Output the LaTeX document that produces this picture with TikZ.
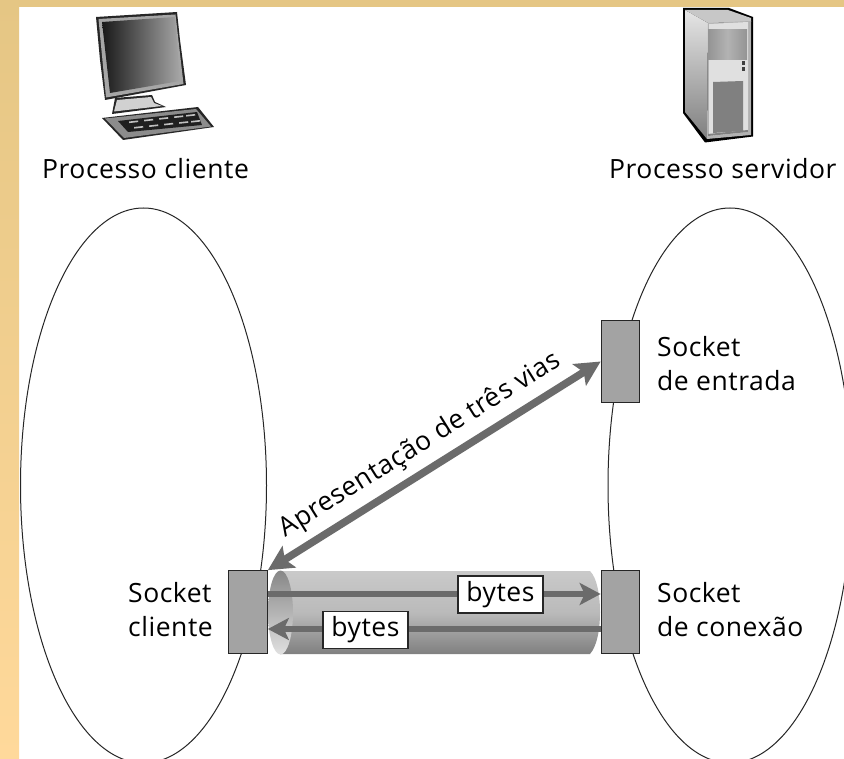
\documentclass[tikz,border=0pt]{standalone}
\usepackage{fontspec}
\setmainfont[LetterSpace=2]{Open Sans}
\usetikzlibrary{arrows.meta,shapes.geometric}
\definecolor{stripT}{HTML}{E5C684}
\definecolor{stripB}{HTML}{FFD99B}
\definecolor{arrowgray}{HTML}{6B6B6B}
\definecolor{sockgray}{HTML}{A3A3A3}
\tikzset{
  socketbox/.style={draw=black!85,line width=1.2pt,fill=sockgray,rectangle,inner sep=0pt,minimum width=38.5pt,minimum height=82.5pt},
  process/.style={draw=black!85,line width=1pt,fill=white},
  flow/.style={draw=arrowgray,line width=6.5pt,-{Stealth[length=21pt,width=22pt,inset=5pt]}},
  flowboth/.style={draw=arrowgray,line width=7.5pt,{Stealth[length=25pt,width=25pt,inset=5pt]}-{Stealth[length=25pt,width=25pt,inset=5pt]}},
  bytebox/.style={draw=black!85,line width=1.1pt,fill=white,inner sep=0pt,minimum width=85pt,minimum height=37pt,font=\fontsize{26.5}{30}\selectfont},
  lbl/.style={font=\fontsize{26.5}{30}\selectfont,inner sep=0pt,anchor=base west},
}
\begin{document}
\begin{tikzpicture}[x=1pt,y=-1pt]
\useasboundingbox (0,0) rectangle (844,759);
\begin{scope}
\clip (0,0) rectangle (844,759);
% backdrop
\fill[white] (0,0) rectangle (844,759);
\shade[top color=stripT,bottom color=stripB] (0,0) rectangle (19,759);
\fill[stripT] (0,0) rectangle (844,7);
% process ellipses
\draw[process] (143.5,485.5) ellipse [x radius=123pt,y radius=277.5pt];
\draw[process] (730,485.5) ellipse [x radius=122pt,y radius=277.5pt];
% computer
\fill[black!85] (96,17) -- (177,12) -- (180,40) -- (186,85) -- (105,100) -- (100,60) -- cycle;
\fill[black!35] (98.5,19) -- (175.5,14.5) -- (183.5,84) -- (106,97.5) -- cycle;
\shade[shading angle=125,left color=black!90,right color=black!35] (102,22) -- (175,17) -- (180,81) -- (110,93) -- cycle;
\fill[black!85] (115,98) -- (152,95) -- (155,102) -- (166,107) -- (112,114) -- cycle;
\fill[black!18] (117,100) -- (151,97) -- (154,103) -- (162,106) -- (114,111.5) -- cycle;
\fill[black!85] (102,118) -- (198,107) -- (214,127) -- (123,140) -- cycle;
\fill[black!45] (105,118.5) -- (196,109) -- (211,126.5) -- (124,138) -- cycle;
\fill[black!88] (118,121) -- (197,112) -- (202,125) -- (128,132) -- cycle;
\foreach \u/\v in {129/121.5,144/119.8,159/118.1,174/116.4,186/115,134/127,149/125.4,164/123.8,179/122.2,191/121}
  \fill[black!25] (\u,\v) -- ++(9,-1) -- ++(0.3,1.6) -- ++(-9,1) -- cycle;
% server
\fill[black] (683,8) -- (729,8) -- (753,17) -- (753,136.5) -- (705,142.5) -- (683,113) -- cycle;
\shade[top color=black!10,bottom color=black!50] (685,10) -- (708,23) -- (707,139) -- (685,112) -- cycle;
\fill[black!22] (685,10) -- (728,10) -- (751,18) -- (751,22) -- (708,23) -- cycle;
\fill[black!30] (708,23) -- (751,21) -- (751,135) -- (707,139) -- cycle;
\fill[black!12] (709,24) -- (748,22) -- (748,132) -- (709,136) -- cycle;
\shade[left color=black!42,right color=black!42,middle color=black!30] (708,30) rectangle (747,60);
\fill[black!50] (713,82) -- (743,81) -- (743,131) -- (713,133) -- cycle;
\fill[black!75] (742,61) rectangle (745,65);
\fill[black!75] (742,67) rectangle (745,71);
\fill[black!50] (708,134) -- (748,130) -- (748,132) -- (708,136) -- cycle;
% tube
\path[top color=black!21,bottom color=black!50,middle color=black!27] (280,571) -- (590,571) .. controls (597,578) and (600,595) .. (600,612) .. controls (600,630) and (597,646) .. (590,654) -- (280,654) -- cycle;
\shade[top color=black!47,bottom color=black!12] (280.5,612.5) ellipse [x radius=12.5pt,y radius=42pt];
% sockets
\node[socketbox] (se) at (620.5,361.5) {};
\node[socketbox] (sc) at (248,612) {};
\node[socketbox] (sx) at (620.5,612) {};
% connectors
\draw[flowboth] (sc.north east) -- (se.west);
\draw[flow] ([yshift=18pt]sx.west -| sc.east) -- ([yshift=18pt]sx.west);
\draw[flow] ([yshift=-17pt]sx.west) -- ([yshift=-17pt]sx.west -| sc.east);
\node[bytebox] at (500.5,594.5) {bytes};
\node[bytebox] at (365.5,630) {bytes};
% labels
\node[lbl] at (42,179) {Processo cliente};
\node[lbl] at (609,179) {Processo servidor};
\node[lbl] at (657,357) {Socket};
\node[lbl] at (657,391) {de entrada};
\node[lbl] at (128,602) {Socket};
\node[lbl] at (128,636) {cliente};
\node[lbl] at (657,602) {Socket};
\node[lbl] at (657,636) {de conexão};
\node[font=\fontsize{26.5}{30}\selectfont,inner sep=0pt,anchor=base,rotate=32] at (424,451) {Apresentação de três vias};
\end{scope}
\end{tikzpicture}
\end{document}
